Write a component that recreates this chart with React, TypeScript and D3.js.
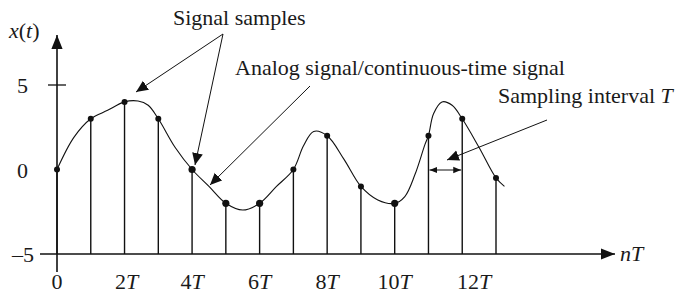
import React from "react";
import * as d3 from "d3";

// samples x(nT), n = 0..13
const sampleN = [0, 1, 2, 3, 4, 5, 6, 7, 8, 9, 10, 11, 12, 13];
const sampleVals = [0, 3, 4, 3, 0, -2, -2, 0, 2, -1, -2, 2, 3, -0.5];

// analog curve (t in units of T)
const curveT = [0, 0.5, 1, 1.5, 2, 2.4, 2.7, 3, 3.5, 4, 4.5, 5, 5.5, 6, 6.5, 7, 7.3, 7.6, 8, 8.5, 9, 9.5, 10, 10.3, 10.6, 10.9, 11, 11.15, 11.4, 11.7, 12, 12.5, 13, 13.25];
const curveVals = [0, 1.9, 3, 3.5, 4, 4.05, 3.8, 3, 1.3, 0, -1, -2, -2.4, -2, -1, 0, 1.4, 2.25, 2, 0.6, -1, -1.8, -2, -1.6, -0.3, 1.5, 2, 3.3, 4, 3.8, 3, 1.3, -0.5, -1.0];

const xTicks = [0, 2, 4, 6, 8, 10, 12];
const yTicks = [5, 0, -5];

const font = "'Liberation Serif', 'Times New Roman', serif";

function App() {
  const x = d3.scaleLinear().domain([0, 13]).range([57, 496]);
  const y = d3.scaleLinear().domain([-5, 5]).range([254, 85]);

  const line = d3.line<number>()
    .x((_, i) => x(curveT[i]))
    .y(d => y(d))
    .curve(d3.curveCatmullRom.alpha(0.5));

  const x0 = x(0), yb = y(-5);
  const fs = 22;

  return (
    <svg width={679} height={294} style={{ position: "absolute", left: 0, top: 0 }}
      fontFamily={font} fill="#1a1a1a">
      <defs>
        <marker id="ah" viewBox="0 0 10 10" refX="10" refY="5" markerWidth="12" markerHeight="12"
          markerUnits="userSpaceOnUse" orient="auto-start-reverse">
          <path d="M0,0.5 L10,5 L0,9.5 z" fill="#111" />
        </marker>
        <marker id="axh" viewBox="0 0 10 10" refX="10" refY="5" markerWidth="14" markerHeight="14"
          markerUnits="userSpaceOnUse" orient="auto">
          <path d="M0,1 L10,5 L0,9 z" fill="#111" />
        </marker>
        <marker id="sh" viewBox="0 0 10 10" refX="10" refY="5" markerWidth="8" markerHeight="8"
          markerUnits="userSpaceOnUse" orient="auto-start-reverse">
          <path d="M0,1 L10,5 L0,9 z" fill="#111" />
        </marker>
      </defs>

      {/* axes */}
      <line x1={x0} y1={272} x2={x0} y2={35} stroke="#111" strokeWidth={1.6} markerEnd="url(#axh)" />
      <line x1={40} y1={yb} x2={615} y2={yb} stroke="#111" strokeWidth={1.6} markerEnd="url(#axh)" />
      <line x1={48} y1={y(5)} x2={66} y2={y(5)} stroke="#111" strokeWidth={1.3} />

      {yTicks.map(v => (
        <text key={v} x={v < 0 ? 34 : 28} y={y(v) + 8} fontSize={fs} textAnchor="end">
          {v < 0 ? "\u2013" + Math.abs(v) : v}
        </text>
      ))}
      {xTicks.map(v => (
        <text key={v} x={x(v) + (v === 12 ? 12 : v === 2 ? 2 : 0)} y={289} fontSize={fs} textAnchor="middle">
          {v === 0 ? "0" : <>{v}<tspan fontStyle="italic">T</tspan></>}
        </text>
      ))}
      <text x={9} y={38} fontSize={fs} fontStyle="italic">x<tspan fontStyle="normal">(</tspan>t<tspan fontStyle="normal">)</tspan></text>
      <text x={620} y={261} fontSize={fs} fontStyle="italic">nT</text>

      {/* stems */}
      {sampleN.map((n, i) => (
        <line key={n} x1={x(n)} y1={yb} x2={x(n)} y2={y(sampleVals[i])} stroke="#111" strokeWidth={1.4} />
      ))}

      {/* analog curve */}
      <path d={line(curveVals) || ""} fill="none" stroke="#111" strokeWidth={1.1} />

      {sampleN.map((n, i) => (
        <circle key={n} cx={x(n)} cy={y(sampleVals[i])} r={[4, 5, 6, 10].includes(n) ? 3.6 : 3} fill="#111" />
      ))}

      {/* annotations */}
      <text x={173} y={25} fontSize={fs}>Signal samples</text>
      <line x1={223} y1={34} x2={136} y2={92} stroke="#111" strokeWidth={1} markerEnd="url(#ah)" />
      <line x1={223} y1={34} x2={195} y2={165} stroke="#111" strokeWidth={1} markerEnd="url(#ah)" />

      <text x={235} y={75} fontSize={fs}>Analog signal/continuous-time signal</text>
      <line x1={310} y1={86} x2={210} y2={185} stroke="#111" strokeWidth={1} markerEnd="url(#ah)" />

      <text x={498} y={103} fontSize={fs}>Sampling interval <tspan fontStyle="italic">T</tspan></text>
      <line x1={547} y1={120} x2={447} y2={160} stroke="#111" strokeWidth={1} markerEnd="url(#ah)" />

      <line x1={x(11) + 1} y1={170} x2={x(12) - 1} y2={170} stroke="#111" strokeWidth={1.2}
        markerStart="url(#sh)" markerEnd="url(#sh)" />
    </svg>
  );
}

export default App;
